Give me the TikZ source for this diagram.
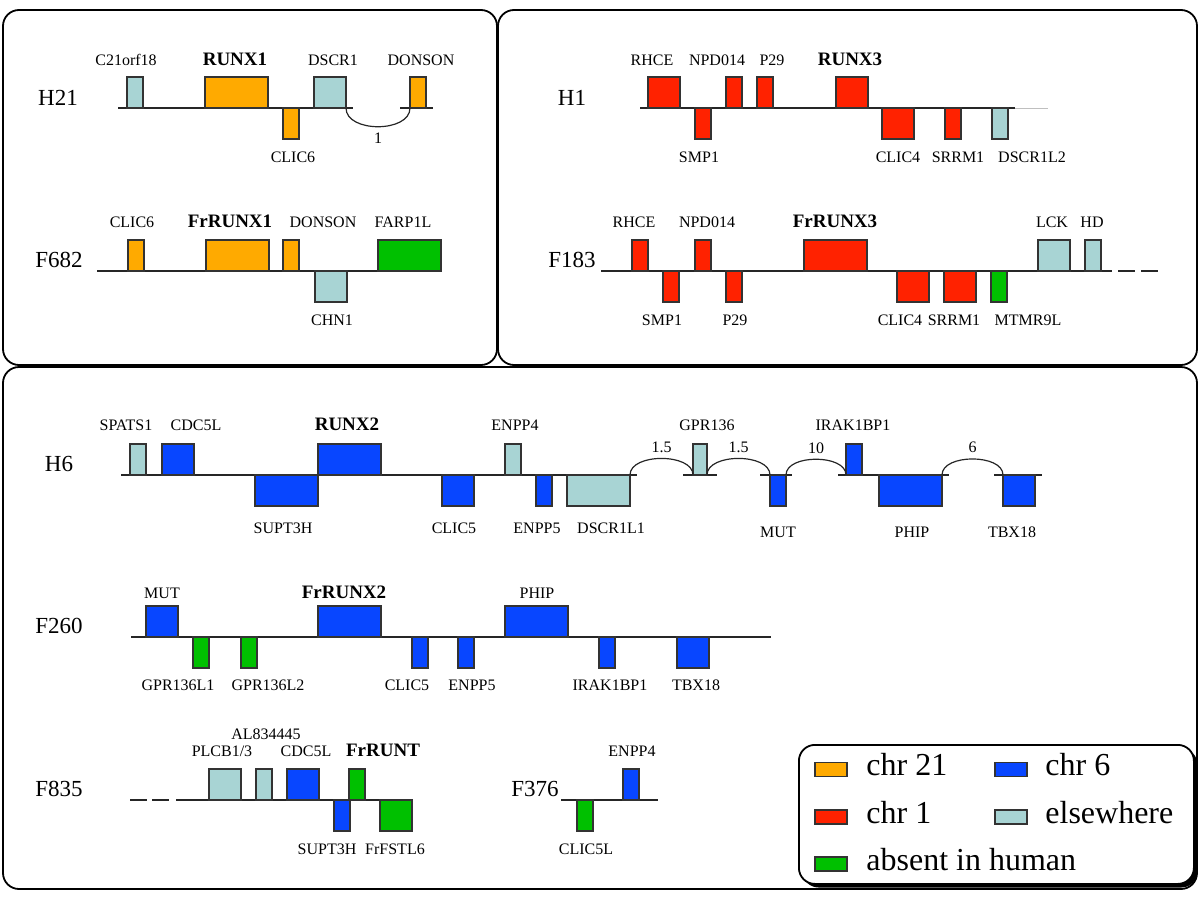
\documentclass[tikz,border=0pt]{standalone}
\usepackage{fontspec}
\setmainfont{Liberation Serif}
\usetikzlibrary{shadows}

\definecolor{orangechr}{RGB}{255,170,0}
\definecolor{redchr}{RGB}{255,34,0}
\definecolor{bluechr}{RGB}{8,70,255}
\definecolor{lightchr}{RGB}{168,212,212}
\definecolor{greenchr}{RGB}{0,192,0}

\begin{document}
\begin{tikzpicture}[
        x=0.5pt, y=-0.5pt,
        panel/.style={draw=black, line width=0.9pt, rounded corners=8pt},
        chrom/.style={draw=black!85, line width=0.6pt},
        dashgap/.style={chrom, dash pattern=on 8.5pt off 3pt},
        gene/.style={rectangle, draw=black!80, line width=0.6pt, inner sep=0pt, outer sep=0pt, minimum height=15.5pt},
        gnarrow/.style={gene, minimum width=8pt},
        gmid/.style={gene, minimum width=16pt},
        gwide/.style={gene, minimum width=31.5pt},
        gup/.style={anchor=south west},
        gdown/.style={anchor=north west},
        chr21/.style={fill=orangechr},
        chr1/.style={fill=redchr},
        chr6/.style={fill=bluechr},
        elsewhere/.style={fill=lightchr},
        absent/.style={fill=greenchr},
        lbl/.style={anchor=base, inner sep=0pt, font=\fontsize{8}{9}\selectfont},
        runx/.style={anchor=base, inner sep=0pt, font=\fontsize{9.5}{11}\selectfont\bfseries},
        rowlbl/.style={anchor=base, inner sep=0pt, font=\fontsize{11.5}{13}\selectfont},
        hop/.style={chrom, looseness=0.9},
        hoplbl/.style={inner sep=2.6pt, font=\fontsize{8}{9}\selectfont},
        legendbox/.style={rectangle, draw=black, line width=0.9pt, rounded corners=8pt, fill=white, minimum width=197.5pt, minimum height=69.5pt, drop shadow={shadow xshift=1.8pt, shadow yshift=-1.8pt, fill=black, opacity=1}},
        keytext/.style={anchor=base west, inner sep=0pt, font=\fontsize{16}{19}\selectfont}
    ]
        \useasboundingbox (0,0) rectangle (1200,900);

        % panels
        \draw[panel] (3,10) rectangle (497,365);
        \draw[panel] (498,10) rectangle (1197,365);
        \draw[panel] (3,367) rectangle (1197,889);

        % ---- H21 ----
        \node[rowlbl] (rh21) at (58,105) {H21};
        \draw[chrom] (118,108) -- (353,108);
        \draw[chrom] (400,108) -- (433,108);
        \node[gnarrow, elsewhere, gup] (h21corf) at (127,108) {};
        \node[gwide, chr21, gup] (h21runx) at (205,108) {};
        \node[gnarrow, chr21, gdown] (h21clic) at (283,108) {};
        \node[gmid, elsewhere, gup] (h21dscr) at (314,108) {};
        \node[gnarrow, chr21, gup] (h21donson) at (410,108) {};
        \draw[hop, looseness=1] (h21dscr.south east) to[out=-90, in=-90] node[hoplbl, below] {1} (h21donson.south west);
        \node[lbl] (l-h21corf) at (126,65) {C21orf18};
        \node[runx] (l-h21runx) at (235,65) {RUNX1};
        \node[lbl] (l-h21dscr) at (333,65) {DSCR1};
        \node[lbl] (l-h21donson) at (421,65) {DONSON};
        \node[lbl] (l-h21clic) at (293,162) {CLIC6};

        % ---- F682 ----
        \node[rowlbl] (rf682) at (59,267) {F682};
        \draw[chrom] (97,271) -- (440,271);
        \node[gnarrow, chr21, gup] (f682clic) at (128,271) {};
        \node[gwide, chr21, gup] (f682runx) at (206,271) {};
        \node[gnarrow, chr21, gup] (f682donson) at (283,271) {};
        \node[gmid, elsewhere, gdown] (f682chn) at (315,271) {};
        \node[gwide, absent, gup] (f682farp) at (378,271) {};
        \node[lbl] (l-f682clic) at (132,227) {CLIC6};
        \node[runx] (l-f682runx) at (230,227) {FrRUNX1};
        \node[lbl] (l-f682donson) at (323,227) {DONSON};
        \node[lbl] (l-f682farp) at (403,227) {FARP1L};
        \node[lbl] (l-f682chn) at (332,325) {CHN1};

        % ---- H1 ----
        \node[rowlbl] (rh1) at (572,105) {H1};
        \draw[chrom] (640,108) -- (1015,108);
        \draw[draw=black!25, line width=0.4pt] (1015,108) -- (1048,108);
        \node[gmid, chr1, gup] (h1rhce) at (648,108) {};
        \node[gnarrow, chr1, gdown] (h1smp) at (695,108) {};
        \node[gnarrow, chr1, gup] (h1npd) at (726,108) {};
        \node[gnarrow, chr1, gup] (h1p29) at (757,108) {};
        \node[gmid, chr1, gup] (h1runx) at (836,108) {};
        \node[gmid, chr1, gdown] (h1clic) at (882,108) {};
        \node[gnarrow, chr1, gdown] (h1srrm) at (945,108) {};
        \node[gnarrow, elsewhere, gdown] (h1dscr) at (992,108) {};
        \node[lbl] (l-h1rhce) at (652,65) {RHCE};
        \node[lbl] (l-h1npd) at (717,65) {NPD014};
        \node[lbl] (l-h1p29) at (772,65) {P29};
        \node[runx] (l-h1runx) at (850,65) {RUNX3};
        \node[lbl] (l-h1smp) at (699,162) {SMP1};
        \node[lbl] (l-h1clic) at (898,162) {CLIC4};
        \node[lbl] (l-h1srrm) at (958,162) {SRRM1};
        \node[lbl] (l-h1dscr) at (1032,162) {DSCR1L2};

        % ---- F183 ----
        \node[rowlbl] (rf183) at (572,267) {F183};
        \draw[chrom] (601,271) -- (1112,271);
        \draw[dashgap] (1118,271) -- (1160,271);
        \node[gnarrow, chr1, gup] (f183rhce) at (632,271) {};
        \node[gnarrow, chr1, gdown] (f183smp) at (663,271) {};
        \node[gnarrow, chr1, gup] (f183npd) at (695,271) {};
        \node[gnarrow, chr1, gdown] (f183p29) at (726,271) {};
        \node[gwide, chr1, gup] (f183runx) at (804,271) {};
        \node[gmid, chr1, gdown] (f183clic) at (897,271) {};
        \node[gmid, chr1, gdown] (f183srrm) at (944,271) {};
        \node[gnarrow, absent, gdown] (f183mtmr) at (991,271) {};
        \node[gmid, elsewhere, gup] (f183lck) at (1038,271) {};
        \node[gnarrow, elsewhere, gup] (f183hd) at (1085,271) {};
        \node[lbl] (l-f183rhce) at (634,227) {RHCE};
        \node[lbl] (l-f183npd) at (707,227) {NPD014};
        \node[runx] (l-f183runx) at (835,227) {FrRUNX3};
        \node[lbl] (l-f183lck) at (1052,227) {LCK};
        \node[lbl] (l-f183hd) at (1092,227) {HD};
        \node[lbl] (l-f183smp) at (662,325) {SMP1};
        \node[lbl] (l-f183p29) at (735,325) {P29};
        \node[lbl] (l-f183clic) at (900,325) {CLIC4};
        \node[lbl] (l-f183srrm) at (954,325) {SRRM1};
        \node[lbl] (l-f183mtmr) at (1028,325) {MTMR9L};

        % ---- H6 ----
        \node[rowlbl] (rh6) at (59,471) {H6};
        \draw[chrom] (121,475) -- (637,475);
        \draw[chrom] (683,475) -- (717,475);
        \draw[chrom] (760,475) -- (792,475);
        \draw[chrom] (838,475) -- (949,475);
        \draw[chrom] (994,475) -- (1042,475);
        \node[gnarrow, elsewhere, gup] (h6spats) at (130,475) {};
        \node[gmid, chr6, gup] (h6cdc) at (162,475) {};
        \node[gwide, chr6, gdown] (h6supt) at (255,475) {};
        \node[gwide, chr6, gup] (h6runx) at (318,475) {};
        \node[gmid, chr6, gdown] (h6clic) at (442,475) {};
        \node[gnarrow, elsewhere, gup] (h6enppf) at (505,475) {};
        \node[gnarrow, chr6, gdown] (h6enpp) at (536,475) {};
        \node[gwide, elsewhere, gdown] (h6dscr) at (567,475) {};
        \node[gnarrow, elsewhere, gup, minimum width=7pt] (h6gpr) at (693,475) {};
        \node[gnarrow, chr6, gdown] (h6mut) at (770,475) {};
        \node[gnarrow, chr6, gup] (h6irak) at (846,475) {};
        \node[gwide, chr6, gdown] (h6phip) at (879,475) {};
        \node[gmid, chr6, gdown] (h6tbx) at (1003,475) {};
        \draw[hop] (h6dscr.north east) to[out=90, in=90] node[hoplbl, above] {1.5} (h6gpr.south west);
        \draw[hop] (h6gpr.south east) to[out=90, in=90] node[hoplbl, above] {1.5} (h6mut.north west);
        \draw[hop] (h6mut.north east) to[out=90, in=90] node[hoplbl, above] {10} (h6irak.south west);
        \draw[hop] (h6phip.north east) to[out=90, in=90] node[hoplbl, above] {6} (h6tbx.north west);
        \node[lbl] (l-h6spats) at (126,430) {SPATS1};
        \node[lbl] (l-h6cdc) at (196,430) {CDC5L};
        \node[runx] (l-h6runx) at (347,430) {RUNX2};
        \node[lbl] (l-h6enppf) at (515,430) {ENPP4};
        \node[lbl] (l-h6gpr) at (707,430) {GPR136};
        \node[lbl] (l-h6irak) at (853,430) {IRAK1BP1};
        \node[lbl] (l-h6supt) at (283,533) {SUPT3H};
        \node[lbl] (l-h6clic) at (454,533) {CLIC5};
        \node[lbl] (l-h6enpp) at (537,533) {ENPP5};
        \node[lbl] (l-h6dscr) at (611,533) {DSCR1L1};
        \node[lbl] (l-h6mut) at (778,537) {MUT};
        \node[lbl] (l-h6phip) at (912,537) {PHIP};
        \node[lbl] (l-h6tbx) at (1012,537) {TBX18};

        % ---- F260 ----
        \node[rowlbl] (rf260) at (59,633) {F260};
        \draw[chrom] (131,637) -- (771,637);
        \node[gmid, chr6, gup] (f260mut) at (146,637) {};
        \node[gnarrow, absent, gdown] (f260gpra) at (193,637) {};
        \node[gnarrow, absent, gdown] (f260gprb) at (241,637) {};
        \node[gwide, chr6, gup] (f260runx) at (318,637) {};
        \node[gnarrow, chr6, gdown] (f260clic) at (412,637) {};
        \node[gnarrow, chr6, gdown] (f260enpp) at (458,637) {};
        \node[gwide, chr6, gup] (f260phip) at (505,637) {};
        \node[gnarrow, chr6, gdown] (f260irak) at (599,637) {};
        \node[gmid, chr6, gdown] (f260tbx) at (677,637) {};
        \node[lbl] (l-f260mut) at (162,598) {MUT};
        \node[runx] (l-f260runx) at (344,598) {FrRUNX2};
        \node[lbl] (l-f260phip) at (537,598) {PHIP};
        \node[lbl] (l-f260gpra) at (178,690) {GPR136L1};
        \node[lbl] (l-f260gprb) at (268,690) {GPR136L2};
        \node[lbl] (l-f260clic) at (407,690) {CLIC5};
        \node[lbl] (l-f260enpp) at (472,690) {ENPP5};
        \node[lbl] (l-f260irak) at (610,690) {IRAK1BP1};
        \node[lbl] (l-f260tbx) at (696,690) {TBX18};

        % ---- F835 ----
        \node[rowlbl] (rf835) at (59,796) {F835};
        \draw[dashgap, dash pattern=on 8.5pt off 2.5pt] (130,800) -- (170,800);
        \draw[chrom] (176,800) -- (412,800);
        \node[gmid, elsewhere, gup] (f835plcb) at (209,800) {};
        \node[gnarrow, elsewhere, gup] (f835al) at (256,800) {};
        \node[gmid, chr6, gup] (f835cdc) at (287,800) {};
        \node[gnarrow, chr6, gdown] (f835supt) at (334,800) {};
        \node[gnarrow, absent, gup] (f835runt) at (349,800) {};
        \node[gmid, absent, gdown] (f835fstl) at (380,800) {};
        \node[lbl] (l-f835al) at (266,739) {AL834445};
        \node[lbl] (l-f835plcb) at (222,756) {PLCB1/3};
        \node[lbl] (l-f835cdc) at (306,756) {CDC5L};
        \node[runx] (l-f835runt) at (383,756) {FrRUNT};
        \node[lbl] (l-f835supt) at (327,854) {SUPT3H};
        \node[lbl] (l-f835fstl) at (395,854) {FrFSTL6};

        % ---- F376 ----
        \node[rowlbl] (rf376) at (535,796) {F376};
        \draw[chrom] (561,800) -- (658,800);
        \node[gnarrow, absent, gdown] (f376clic) at (577,800) {};
        \node[gnarrow, chr6, gup] (f376enpp) at (623,800) {};
        \node[lbl] (l-f376enpp) at (632,756) {ENPP4};
        \node[lbl] (l-f376clic) at (586,854) {CLIC5L};

        % ---- legend ----
        \node[legendbox, anchor=north west] (legend) at (798,744) {};
        \node[gene, chr21, minimum width=16pt, minimum height=7pt, anchor=west] (k21) at (815,769.5) {};
        \node[gene, chr1, minimum width=16pt, minimum height=7pt, anchor=west] (k1) at (815,817) {};
        \node[gene, absent, minimum width=16pt, minimum height=7pt, anchor=west] (kabs) at (815,864) {};
        \node[gene, chr6, minimum width=16pt, minimum height=7pt, anchor=west] (k6) at (995,769.5) {};
        \node[gene, elsewhere, minimum width=16pt, minimum height=7pt, anchor=west] (kelse) at (995,817) {};
        \node[keytext] (t21) at (866,775) {chr 21};
        \node[keytext] (t1) at (866,823) {chr 1};
        \node[keytext] (tabs) at (866,870) {absent in human};
        \node[keytext] (t6) at (1045,775) {chr 6};
        \node[keytext] (telse) at (1045,823) {elsewhere};
    \end{tikzpicture}
\end{document}
